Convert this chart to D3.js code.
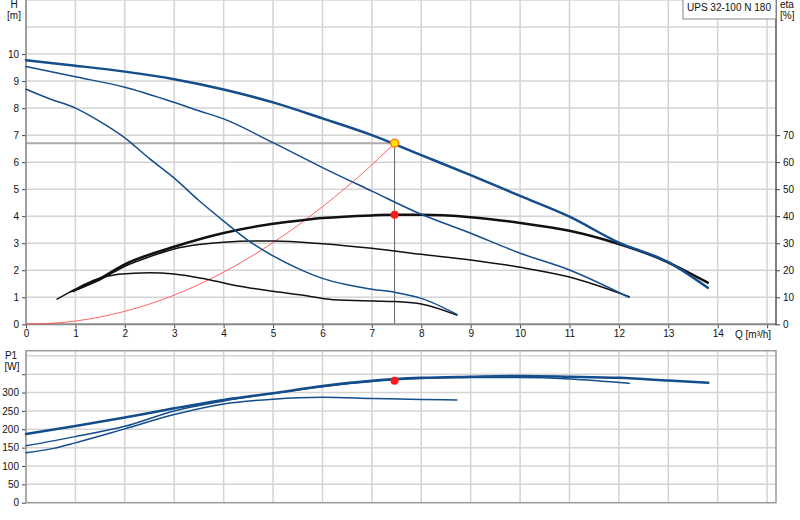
<!DOCTYPE html>
<html><head><meta charset="utf-8">
<script src="https://cdn.jsdelivr.net/npm/d3@7"></script>
<style>
body{margin:0;background:#fff;}
svg{display:block;font-family:"Liberation Sans",Arial,sans-serif;}
</style></head>
<body><svg id="c" width="800" height="520"></svg>
<script>
// ---- data ----
const title = "UPS 32-100 N 180";
const qTicks = [0,1,2,3,4,5,6,7,8,9,10,11,12,13,14];
const hTicks = [0,1,2,3,4,5,6,7,8,9,10];
const etaTicks = [0,10,20,30,40,50,60,70];
const pTicks = [0,50,100,150,200,250,300];

// H curves (Q in m3/h, H in m)
const qHMax = [0,1,2,3,4,5,6,7,8,9,10,11,12,13,13.8];
const hMax  = [9.77,9.57,9.35,9.07,8.69,8.21,7.62,7.0,6.26,5.52,4.75,3.98,3.02,2.3,1.35];
const qHMid = [0,1,2,2.85,3.5,4,5,6,7,8,9,10,11,12.2];
const hMid  = [9.54,9.16,8.77,8.3,7.9,7.6,6.72,5.8,4.93,4.07,3.37,2.63,2.01,1.0];
const qHLow = [0,0.5,1,1.5,2,2.5,3,3.5,4,4.5,5,5.5,6,6.5,7,7.5,8,8.72];
const hLow  = [8.7,8.33,8.0,7.5,6.9,6.13,5.41,4.58,3.82,3.1,2.53,2.07,1.7,1.46,1.3,1.17,0.96,0.37];

// efficiency curves (%)
const qEMax = [0.95,1.5,2,3,4,5,5.54,6,7,7.46,8,9,10,11,12,12.8,13.8];
const eMax  = [12.3,17,22.2,28.7,33.8,37.2,38.4,39.3,40.3,40.5,40.5,39.6,37.5,34.6,29.7,24.5,15.4];
const qEMid = [0.9,1.5,2,2.5,3,3.5,4,4.74,5,6,7,8,9,10,11,12.21];
const eMid  = [12,16.5,21.5,25,27.9,29.5,30.4,30.8,30.8,29.8,28.1,25.9,23.8,21.1,17.5,10.2];
const qELow = [0.63,1,1.36,1.87,2.5,3,3.65,4.33,5,5.54,6.22,7.46,8,8.72];
const eLow  = [9.3,13,16.2,18.5,19.1,18.6,16.7,14.1,12.2,10.9,9.1,8.4,7.5,3.4];

// system curve
const qSys = [0,1,2,3,4,5,6,7,7.46];
const hSys = [0,0.12,0.48,1.08,1.93,3.02,4.35,5.9,6.7];

// operating point
const opQ = 7.46, opH = 6.7, opEta = 40.5, opP = 332;

// power curves (W)
const qPMax = [0,1,2,3,4,5,6,7,8,9,10,11,12,13,13.81];
const pMax  = [187,209,232,257,280,298,318,332,340,343,345,343,340,333,327];
const qPMid = [0,1,2,3,4,5,6,7,8,9,10,11,12.21];
const pMid  = [155,180,208,250,277,298,316,330,338,341,341,337,325];
const qPLow = [0,0.56,1,2,3,4,5,6,7,8,8.72];
const pLow  = [136,148,163,201,240,269,282,287,284,281,280];

// ---- drawing ----
const svg = d3.select("#c");
const L = 26, R = 776;
const x = d3.scaleLinear().domain([0,15.18]).range([L,R]);
const yH = d3.scaleLinear().domain([0,12]).range([324.3,0]);
const yE = d3.scaleLinear().domain([0,120]).range([324.3,0]);
const yP = d3.scaleLinear().domain([0,414]).range([502.7,350.7]);
const blue = "#134d8b", black = "#111", grid = "#d4d4d4";
const fs = "10px";

// top grid
const gT = svg.append("g");
d3.range(0,16).forEach(q=>gT.append("line").attr("x1",x(q)).attr("x2",x(q)).attr("y1",0).attr("y2",yH(0)).attr("stroke",grid).attr("stroke-width",1.5));
d3.range(1,13).forEach(h=>gT.append("line").attr("x1",L).attr("x2",R).attr("y1",yH(h)).attr("y2",yH(h)).attr("stroke",grid).attr("stroke-width",1.5));

// bottom grid
const gB = svg.append("g");
d3.range(0,16).forEach(q=>gB.append("line").attr("x1",x(q)).attr("x2",x(q)).attr("y1",yP(414)).attr("y2",yP(0)).attr("stroke",grid).attr("stroke-width",1.5));
d3.range(50,450,50).forEach(p=>gB.append("line").attr("x1",L).attr("x2",R).attr("y1",yP(p)).attr("y2",yP(p)).attr("stroke",grid).attr("stroke-width",1.5));

// reference lines for operating point
svg.append("line").attr("x1",L).attr("x2",x(opQ)).attr("y1",yH(opH)).attr("y2",yH(opH)).attr("stroke","#aaa").attr("stroke-width",2);
svg.append("line").attr("x1",x(opQ)).attr("x2",x(opQ)).attr("y1",yH(opH)).attr("y2",yH(0)).attr("stroke","#666").attr("stroke-width",1);

// axes top
const axL = d3.axisLeft(yH).tickValues(hTicks).tickSize(4).tickPadding(3);
const gAL = svg.append("g").attr("transform",`translate(${L},0)`).call(axL);
const axR = d3.axisRight(yE).tickValues(etaTicks).tickSize(4).tickPadding(3);
const gAR = svg.append("g").attr("transform",`translate(${R},0)`).call(axR);
const axB = d3.axisBottom(x).tickValues(qTicks.concat([15])).tickSize(4).tickPadding(2).tickFormat(d=>d===15?"":d);
const gAB = svg.append("g").attr("transform",`translate(0,${yH(0)})`).call(axB);
[gAL,gAR,gAB].forEach(g=>{
  g.select(".domain").remove();
  g.selectAll("text").attr("font-size",fs).attr("fill","#111").attr("font-family","Liberation Sans, Arial, sans-serif");
  g.selectAll(".tick line").attr("stroke","#444");
});
svg.append("line").attr("x1",L).attr("x2",L).attr("y1",0).attr("y2",yH(0)).attr("stroke","#888").attr("stroke-width",1.5);
svg.append("line").attr("x1",L).attr("x2",R).attr("y1",yH(0)).attr("y2",yH(0)).attr("stroke","#888").attr("stroke-width",2);
svg.append("line").attr("x1",R).attr("x2",R).attr("y1",0).attr("y2",yH(0)+1).attr("stroke","#555").attr("stroke-width",1.5);

// bottom axis (power)
const axP = d3.axisLeft(yP).tickValues(pTicks.concat([350])).tickSize(4).tickPadding(3).tickFormat(d=>d===350?"":d);
const gAP = svg.append("g").attr("transform",`translate(${L},0)`).call(axP);
gAP.select(".domain").remove();
gAP.selectAll("text").attr("font-size",fs).attr("fill","#111").attr("font-family","Liberation Sans, Arial, sans-serif");
gAP.selectAll(".tick line").attr("stroke","#444");
svg.append("rect").attr("x",L).attr("y",yP(414)).attr("width",R-L).attr("height",yP(0)-yP(414)).attr("fill","none").attr("stroke","#999").attr("stroke-width",1.5);

// labels
const lab = (t,xx,yy,anchor)=>svg.append("text").attr("x",xx).attr("y",yy).attr("font-size",fs).attr("fill","#111").attr("text-anchor",anchor||"middle").text(t);
lab("H",14,8); lab("[m]",14,19);
lab("eta",780,8,"start"); lab("[%]",780,19,"start");
lab("P1",11,359); lab("[W]",12,370);
lab("Q [m³/h]",735,338,"start");

// legend box
svg.append("rect").attr("x",683).attr("y",-1).attr("width",R-683).attr("height",20).attr("fill","#fff").attr("stroke","#888").attr("stroke-width",1);
lab(title,687,11,"start");

// curves
const line = (xs,ys,ys_scale)=>d3.line().x((d,i)=>x(xs[i])).y(d=>ys_scale(d)).curve(d3.curveMonotoneX)(ys);
const path = (d,c,w)=>svg.append("path").attr("d",d).attr("fill","none").attr("stroke",c).attr("stroke-width",w).attr("stroke-linejoin","round").attr("stroke-linecap","round");

path(line(qSys,hSys,yH),"#ff5050",0.9);
path(line(qEMid,eMid,yE),black,1.5);
path(line(qELow,eLow,yE),black,1.5);
path(line(qEMax,eMax,yE),black,2.5);
path(line(qHLow,hLow,yH),blue,1.5);
path(line(qHMid,hMid,yH),blue,1.5);
path(line(qHMax,hMax,yH),blue,2.5);

path(line(qPLow,pLow,yP),blue,1.5);
path(line(qPMid,pMid,yP),blue,1.5);
path(line(qPMax,pMax,yP),blue,2.5);

// points
svg.append("circle").attr("cx",x(opQ)).attr("cy",yH(opH)).attr("r",4).attr("fill","#ffe400").attr("stroke","#ff7a1a").attr("stroke-width",1.5);
svg.append("circle").attr("cx",x(opQ)).attr("cy",yE(opEta)).attr("r",4).attr("fill","#ff1a1a");
svg.append("circle").attr("cx",x(opQ)).attr("cy",yP(opP)).attr("r",4).attr("fill","#ff1a1a");
</script></body></html>
